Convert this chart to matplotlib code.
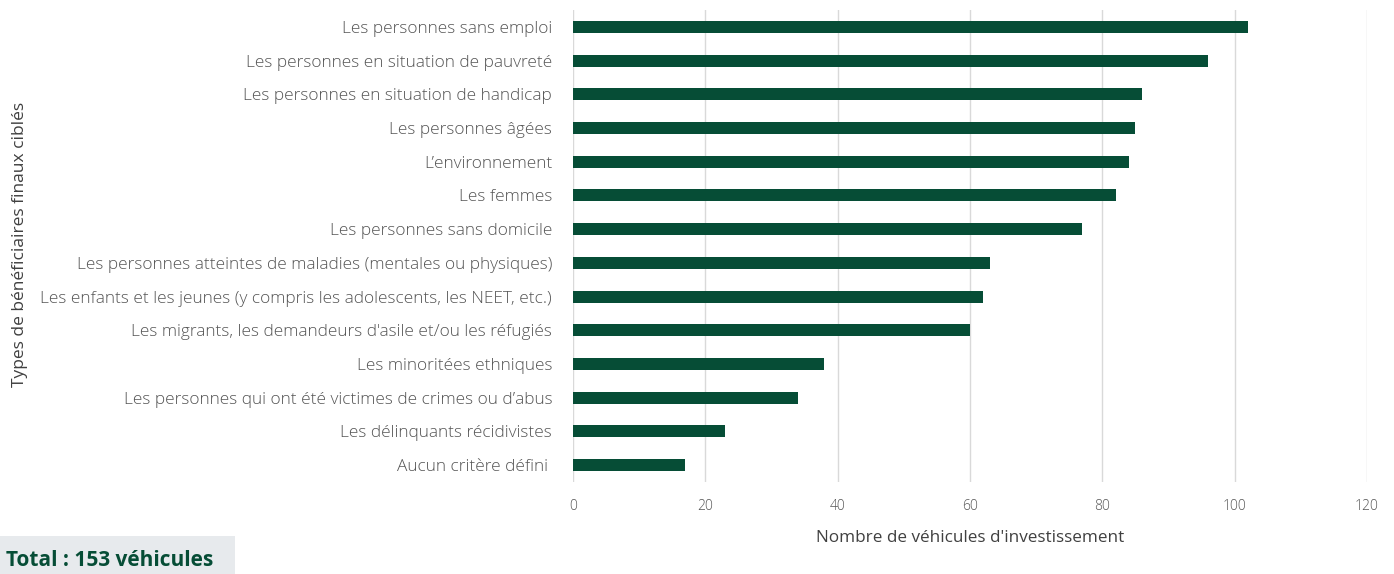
import matplotlib
matplotlib.use("Agg")
import matplotlib.pyplot as plt

categories = [
    "Les personnes sans emploi",
    "Les personnes en situation de pauvreté",
    "Les personnes en situation de handicap",
    "Les personnes âgées",
    "L\u2019environnement",
    "Les femmes",
    "Les personnes sans domicile",
    "Les personnes atteintes de maladies (mentales ou physiques)",
    "Les enfants et les jeunes (y compris les adolescents, les NEET, etc.)",
    "Les migrants, les demandeurs d'asile et/ou les réfugiés",
    "Les minoritées ethniques",
    "Les personnes qui ont été victimes de crimes ou d\u2019abus",
    "Les délinquants récidivistes",
    "Aucun critère défini ",
]
values = [102, 96, 86, 85, 84, 82, 77, 63, 62, 60, 38, 34, 23, 17]
xticks = [0, 20, 40, 60, 80, 100, 120]

plt.rcParams['font.family'] = ['Open Sans', 'DejaVu Sans']
green = '#064d36'
grey_txt = '#555555'

fig = plt.figure(figsize=(13.94, 5.74), dpi=100)
ax = fig.add_axes([573/1394, 1-482/574, (1367-573)/1394, (482-10)/574])

ypos = list(range(len(categories)))
ax.barh(ypos, values, height=0.36, color=green)
ax.set_ylim(len(categories)-0.5, -0.5)
ax.set_xlim(0, 120)
ax.set_xticks(xticks)
ax.set_yticks(ypos)
ax.set_yticklabels(categories, fontsize=12.4, color=grey_txt, fontweight='light')
for t in ax.get_xticklabels():
    t.set_fontweight('light')
ax.tick_params(axis='x', labelsize=10, colors=grey_txt, length=0, pad=12)
ax.tick_params(axis='y', length=0, pad=15)
ax.grid(axis='x', color='#d9d9d9', linewidth=1)
ax.set_axisbelow(True)
for s in ax.spines.values():
    s.set_visible(False)

ax.set_xlabel("Nombre de véhicules d'investissement", fontsize=12.3, color='#404040', labelpad=12)
fig.text(20/1394, 1-244/574, "Types de bénéficiaires finaux ciblés", rotation=90,
         fontsize=12.5, color='#404040', ha='center', va='center')

fig.patches.append(plt.Rectangle((0, 0), 235/1394, 38/574, transform=fig.transFigure,
                                 facecolor='#e7eaed', edgecolor='none'))
fig.text(6/1394, 1-561/574, "Total : 153 véhicules", fontsize=15, fontweight='bold',
         color=green, ha='left', va='center')

fig.savefig("out.png", dpi=100)
